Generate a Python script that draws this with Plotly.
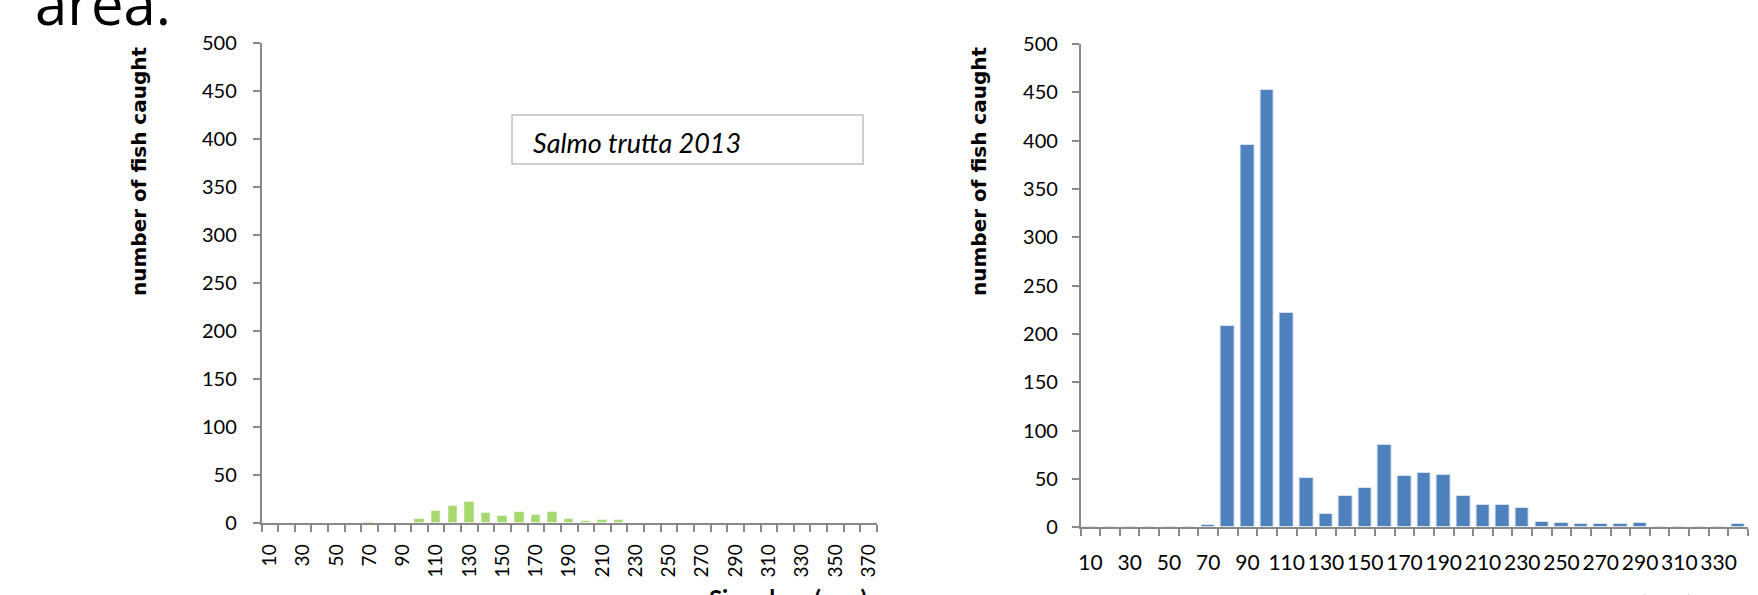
import plotly.graph_objects as go

W, H = 1758, 595

# ---- data ----
left_classes = [10, 20, 30, 40, 50, 60, 70, 80, 90, 100, 110, 120, 130, 140, 150, 160, 170, 180, 190,
                200, 210, 220, 230, 240, 250, 260, 270, 280, 290, 300, 310, 320, 330, 340, 350, 360, 370]
left_counts = [0, 0, 0, 0, 0, 0, 1, 0.4, 0, 4, 12, 18, 22, 10, 7, 11, 8, 11, 4,
               2, 3, 3, 0.5, 0, 0, 0, 0, 0.4, 0, 0, 0, 0.4, 0, 0, 0, 0.4, 0]
left_ticklabels = [10, 30, 50, 70, 90, 110, 130, 150, 170, 190, 210, 230, 250, 270, 290, 310, 330, 350, 370]

right_classes = [10, 20, 30, 40, 50, 60, 70, 80, 90, 100, 110, 120, 130, 140, 150, 160, 170, 180, 190,
                 200, 210, 220, 230, 240, 250, 260, 270, 280, 290, 300, 310, 320, 330, 340]
right_counts = [0, 0, 0, 0, 0, 0, 2, 208, 396, 452, 222, 51, 14, 32, 41, 85, 53, 56, 54,
                32, 23, 23, 20, 6, 4, 3, 3, 3, 4, 0, 0, 0, 0, 3]
right_ticklabels = [10, 30, 50, 70, 90, 110, 130, 150, 170, 190, 210, 230, 250, 270, 290, 310, 330]

y_ticks = [0, 50, 100, 150, 200, 250, 300, 350, 400, 450, 500]

legend_text = "Salmo trutta 2013"
y_title = "number of fish caught"
x_title = "Size class (mm)"
slide_text = "area."

GREEN = "#A5D86F"
BLUE = "#4F81BD"
AXIS = "#898989"

def px(x):
    return x / W

def py(y):
    return 1 - y / H

fig = go.Figure()
fig.add_trace(go.Bar(x=left_classes, y=left_counts, width=5.7, marker=dict(color=GREEN, line=dict(color="rgba(255,255,255,0.5)", width=1)),
                     xaxis="x", yaxis="y", showlegend=False))
fig.add_trace(go.Bar(x=right_classes, y=right_counts, width=6.9, marker=dict(color=BLUE, line=dict(color="rgba(220,230,242,0.9)", width=1)),
                     xaxis="x2", yaxis="y2", showlegend=False))

tickfont = dict(family="Lato", size=20, color="#000000")

def bounds(classes):
    return [c - 5 for c in classes] + [classes[-1] + 5]

fig.update_layout(
    width=W, height=H,
    margin=dict(l=0, r=0, t=0, b=0),
    paper_bgcolor="white", plot_bgcolor="white",
    bargap=0,
    xaxis=dict(domain=[px(261.5), px(877)], range=[5, 375], showgrid=False, zeroline=False, automargin=False,
               showline=True, linecolor=AXIS, linewidth=1.5,
               tickmode="array", tickvals=left_ticklabels, ticktext=[str(v) for v in left_ticklabels],
               ticks="", tickangle=-90, tickfont=dict(family="Lato", size=19, color="#000"),
               ticklabelstandoff=12,
               minor=dict(ticks="outside", tickvals=bounds(left_classes), ticklen=7, tickcolor=AXIS, tickwidth=1.5, showgrid=False)),
    yaxis=dict(domain=[py(523), py(43)], range=[0, 500], showgrid=False, zeroline=False, automargin=False,
               showline=True, linecolor=AXIS, linewidth=1.5,
               tickmode="array", tickvals=y_ticks, ticks="outside", ticklen=7, tickcolor=AXIS, tickwidth=1.5,
               tickfont=tickfont, ticklabelstandoff=12),
    xaxis2=dict(domain=[px(1080.6), px(1748)], range=[5, 345], showgrid=False, zeroline=False, automargin=False,
                showline=True, linecolor=AXIS, linewidth=1.5, anchor="y2",
                tickmode="array", tickvals=right_ticklabels, ticktext=[str(v) for v in right_ticklabels],
                ticks="", tickangle=0, tickfont=dict(family="Lato", size=21, color="#000"),
                ticklabelstandoff=16,
                minor=dict(ticks="outside", tickvals=bounds(right_classes), ticklen=7, tickcolor=AXIS, tickwidth=1.5, showgrid=False)),
    yaxis2=dict(domain=[py(527.3), py(44)], range=[0, 500], showgrid=False, zeroline=False, automargin=False,
                showline=True, linecolor=AXIS, linewidth=1.5, anchor="x2",
                tickmode="array", tickvals=y_ticks, ticks="outside", ticklen=7, tickcolor=AXIS, tickwidth=1.5,
                tickfont=tickfont, ticklabelstandoff=10),
)

ann = []
# slide text partially cut at top (as in the reference)
ann.append(dict(text=slide_text, x=px(33), y=py(44), xref="paper", yref="paper", xanchor="left", yanchor="bottom",
                showarrow=False, font=dict(family="Open Sans", size=58, color="#000")))
# y-axis titles
for cx in (139, 979):
    ann.append(dict(text="<b>" + y_title + "</b>", x=px(cx), y=py(171), xref="paper", yref="paper",
                    xanchor="center", yanchor="middle", textangle=-90, showarrow=False,
                    font=dict(family="DejaVu Sans", size=20, color="#000")))
# x-axis titles (cut off at bottom, as in the reference)
ann.append(dict(text="<b>" + x_title + "</b>", x=px(788), y=py(582), xref="paper", yref="paper",
                xanchor="center", yanchor="top", showarrow=False, font=dict(family="Lato", size=24, color="#000")))
ann.append(dict(text="<b>" + x_title + "</b>", x=px(1614), y=py(588), xref="paper", yref="paper",
                xanchor="center", yanchor="top", showarrow=False, font=dict(family="Lato", size=24, color="#000")))
# legend text
ann.append(dict(text="<i>" + legend_text + "</i>", x=px(531), y=py(142), xref="paper", yref="paper",
                xanchor="left", yanchor="middle", showarrow=False, font=dict(family="Lato", size=27, color="#000")))
fig.update_layout(annotations=ann)

fig.add_shape(type="rect", xref="paper", yref="paper", x0=px(512), x1=px(863), y0=py(164), y1=py(115),
              line=dict(color="#BFBFBF", width=1.5), fillcolor="rgba(0,0,0,0)")

fig.write_html("out.html")
